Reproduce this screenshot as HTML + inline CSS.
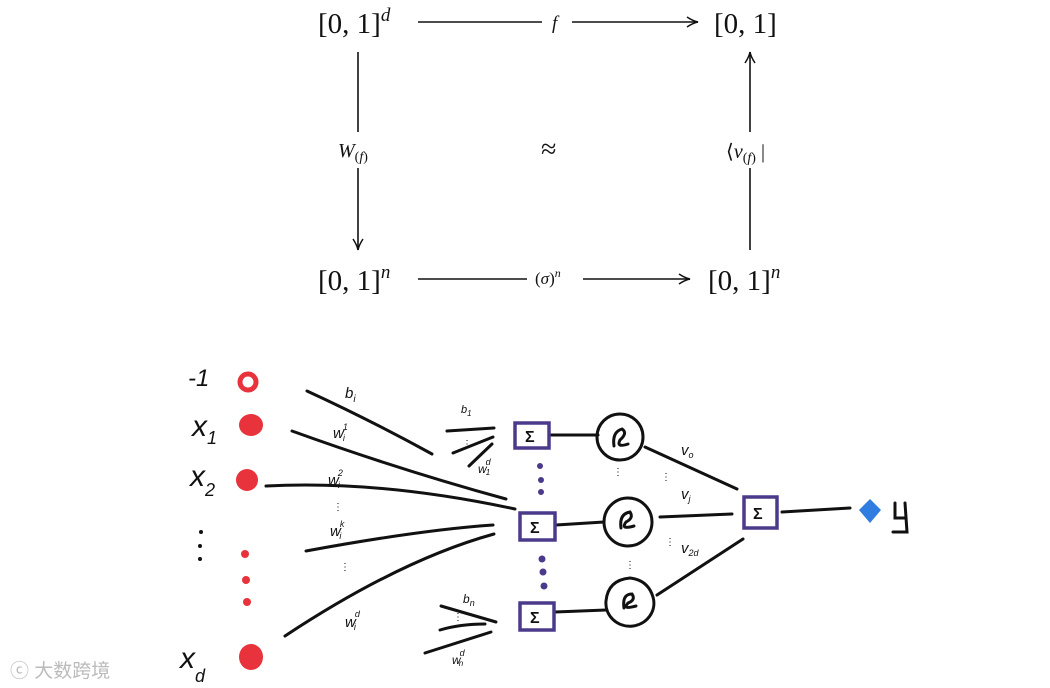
<!DOCTYPE html>
<html><head><meta charset="utf-8"><style>
body{margin:0;background:#fff;width:1050px;height:688px;overflow:hidden}
svg{display:block}
.m{font-family:"Liberation Serif",serif;fill:#111}
.h{font-family:"Liberation Sans",sans-serif;fill:#111;font-style:italic}
</style></head><body>
<svg width="1050" height="688" viewBox="0 0 1050 688">
<defs><marker id="a" markerWidth="14" markerHeight="12" refX="12" refY="6" orient="auto" markerUnits="userSpaceOnUse"><path d="M1,1 Q7,5 12,6 Q7,7 1,11" fill="none" stroke="#111" stroke-width="1.5"/></marker></defs>
<g stroke="#111" stroke-width="1.6" fill="none">
<line x1="418" y1="22" x2="542" y2="22"/><line x1="572" y1="22" x2="698" y2="22" marker-end="url(#a)"/>
<line x1="358" y1="52" x2="358" y2="132"/><line x1="358" y1="168" x2="358" y2="250" marker-end="url(#a)"/>
<line x1="750" y1="250" x2="750" y2="168"/><line x1="750" y1="132" x2="750" y2="52" marker-end="url(#a)"/>
<line x1="418" y1="279" x2="527" y2="279"/><line x1="583" y1="279" x2="690" y2="279" marker-end="url(#a)"/>
</g>
<text class="m" x="318" y="33" font-size="29">[0, 1]<tspan font-size="19" font-style="italic" dy="-12">d</tspan></text>
<text class="m" x="714" y="33" font-size="29">[0, 1]</text>
<text class="m" x="552" y="29" font-size="19" font-style="italic">f</text>
<text class="m" x="338" y="157" font-size="20"><tspan font-style="italic">W</tspan><tspan font-size="14" dy="4">(<tspan font-style="italic">f</tspan>)</tspan></text>
<text class="m" x="541" y="158" font-size="28">≈</text>
<text class="m" x="726" y="158" font-size="20">⟨<tspan font-style="italic">v</tspan><tspan font-size="14" dy="4">(<tspan font-style="italic">f</tspan>)</tspan><tspan dy="-4"> |</tspan></text>
<text class="m" x="318" y="290" font-size="29">[0, 1]<tspan font-size="19" font-style="italic" dy="-12">n</tspan></text>
<text class="m" x="708" y="290" font-size="29">[0, 1]<tspan font-size="19" font-style="italic" dy="-12">n</tspan></text>
<text class="m" x="535" y="284" font-size="17">(<tspan font-style="italic">σ</tspan>)<tspan font-size="12" font-style="italic" dy="-7">n</tspan></text>

<g fill="#e8323c">
<circle cx="248" cy="382" r="8" fill="none" stroke="#e8323c" stroke-width="5"/>
<ellipse cx="251" cy="425" rx="12" ry="11"/><ellipse cx="247" cy="480" rx="11" ry="11"/><ellipse cx="251" cy="657" rx="12" ry="13"/>
<circle cx="245" cy="554" r="4"/><circle cx="246" cy="580" r="4"/><circle cx="247" cy="602" r="4"/>
</g>
<g fill="#111"><circle cx="201" cy="532" r="2"/><circle cx="200" cy="546" r="2"/><circle cx="200" cy="559" r="2"/></g>
<g stroke="#111" stroke-width="3" fill="none" stroke-linecap="round">
<path d="M307,391 Q370,420 432,454"/>
<path d="M292,431 Q400,470 506,499"/>
<path d="M266,486 Q380,480 515,509"/>
<path d="M306,551 Q420,530 493,525"/>
<path d="M285,636 Q400,560 494,534"/>
<path d="M447,431 L494,428 M453,453 L493,437 M469,466 L492,444"/>
<path d="M441,606 L496,622 M440,630 Q460,624 485,624 M425,653 L491,632"/>
<path d="M550,435 L598,435 M556,525 L604,522 M555,612 L606,610"/>
<circle cx="620" cy="437" r="23"/><circle cx="628" cy="522" r="24"/><path d="M606,601 A24,23 0 1,0 653,597 Q648,580 630,578 Q608,580 606,601Z"/>
<path d="M645,447 L737,489 M660,517 L732,514 M657,595 L743,539 M782,512 L850,508"/>
<path d="M614,446 Q612,432 622,429 Q628,433 620,440 Q616,448 628,444 M621,528 Q619,514 630,512 Q634,518 626,522 Q620,530 634,526 M624,608 Q622,594 632,594 Q636,600 628,603 Q622,610 636,606"/>
<path d="M895,503 L895,518 L905,518 M905,503 L907,532 L893,532"/>
</g>
<g stroke="#4b3a8c" stroke-width="3.5" fill="none">
<rect x="515" y="423" width="34" height="25"/><rect x="520" y="513" width="35" height="27"/><rect x="520" y="603" width="34" height="27"/><rect x="744" y="497" width="33" height="31"/>
</g>
<g fill="#4b3a8c"><circle cx="540" cy="466" r="3"/><circle cx="541" cy="480" r="3"/><circle cx="541" cy="492" r="3"/><circle cx="542" cy="559" r="3.5"/><circle cx="543" cy="572" r="3.5"/><circle cx="544" cy="586" r="3.5"/></g>
<g font-family="Liberation Sans" font-weight="bold" fill="#111" font-size="16">
<text x="525" y="442">Σ</text><text x="530" y="533">Σ</text><text x="530" y="623">Σ</text><text x="753" y="519">Σ</text></g>
<path d="M870,499 L881,510 L870,523 L859,510Z" fill="#2f7de0"/>
<text class="h" x="188" y="386" font-size="24">-1</text>
<text class="h" x="192" y="436" font-size="30">x<tspan font-size="18" dy="8">1</tspan></text>
<text class="h" x="190" y="486" font-size="30">x<tspan font-size="18" dy="10">2</tspan></text>
<text class="h" x="180" y="668" font-size="30">x<tspan font-size="18" dy="14">d</tspan></text>
<g class="h" font-size="15">
<text x="345" y="398">b<tspan font-size="10" dy="4">i</tspan></text>
<text x="333" y="438">w<tspan font-size="9" dx="-1" dy="-8">1</tspan><tspan font-size="9" dx="-5" dy="11">i</tspan></text>
<text x="328" y="485">w<tspan font-size="9" dx="-1" dy="-9">2</tspan><tspan font-size="9" dx="-5" dy="12">i</tspan></text>
<text x="330" y="536">w<tspan font-size="9" dx="-1" dy="-9">k</tspan><tspan font-size="9" dx="-5" dy="12">i</tspan></text>
<text x="345" y="627">w<tspan font-size="9" dx="-1" dy="-10">d</tspan><tspan font-size="9" dx="-6" dy="13">i</tspan></text>
<text x="461" y="413" font-size="11">b<tspan font-size="8" dy="3">1</tspan></text>
<text x="478" y="473" font-size="12">w<tspan font-size="9" dx="-1" dy="-8">d</tspan><tspan font-size="8" dx="-5" dy="10">1</tspan></text>
<text x="463" y="603" font-size="12">b<tspan font-size="9" dy="3">n</tspan></text>
<text x="452" y="664" font-size="12">w<tspan font-size="9" dx="-1" dy="-8">d</tspan><tspan font-size="8" dx="-6" dy="10">n</tspan></text>
<text x="681" y="455">v<tspan font-size="9" dy="3">o</tspan></text>
<text x="681" y="499">v<tspan font-size="9" dy="3">j</tspan></text>
<text x="681" y="553">v<tspan font-size="9" dy="3">2d</tspan></text>
</g>
<g fill="#111" font-size="10" font-family="Liberation Sans">
<text x="333" y="510">⋮</text><text x="340" y="570">⋮</text><text x="462" y="447">⋮</text><text x="453" y="620">⋮</text>
<text x="613" y="475">⋮</text><text x="661" y="480">⋮</text><text x="665" y="545">⋮</text><text x="625" y="568">⋮</text>
</g>
<text x="10" y="677" font-family="Liberation Sans, Noto Sans CJK SC, sans-serif" font-size="19" fill="#bbb">ⓒ 大数跨境</text>
</svg>
</body></html>
